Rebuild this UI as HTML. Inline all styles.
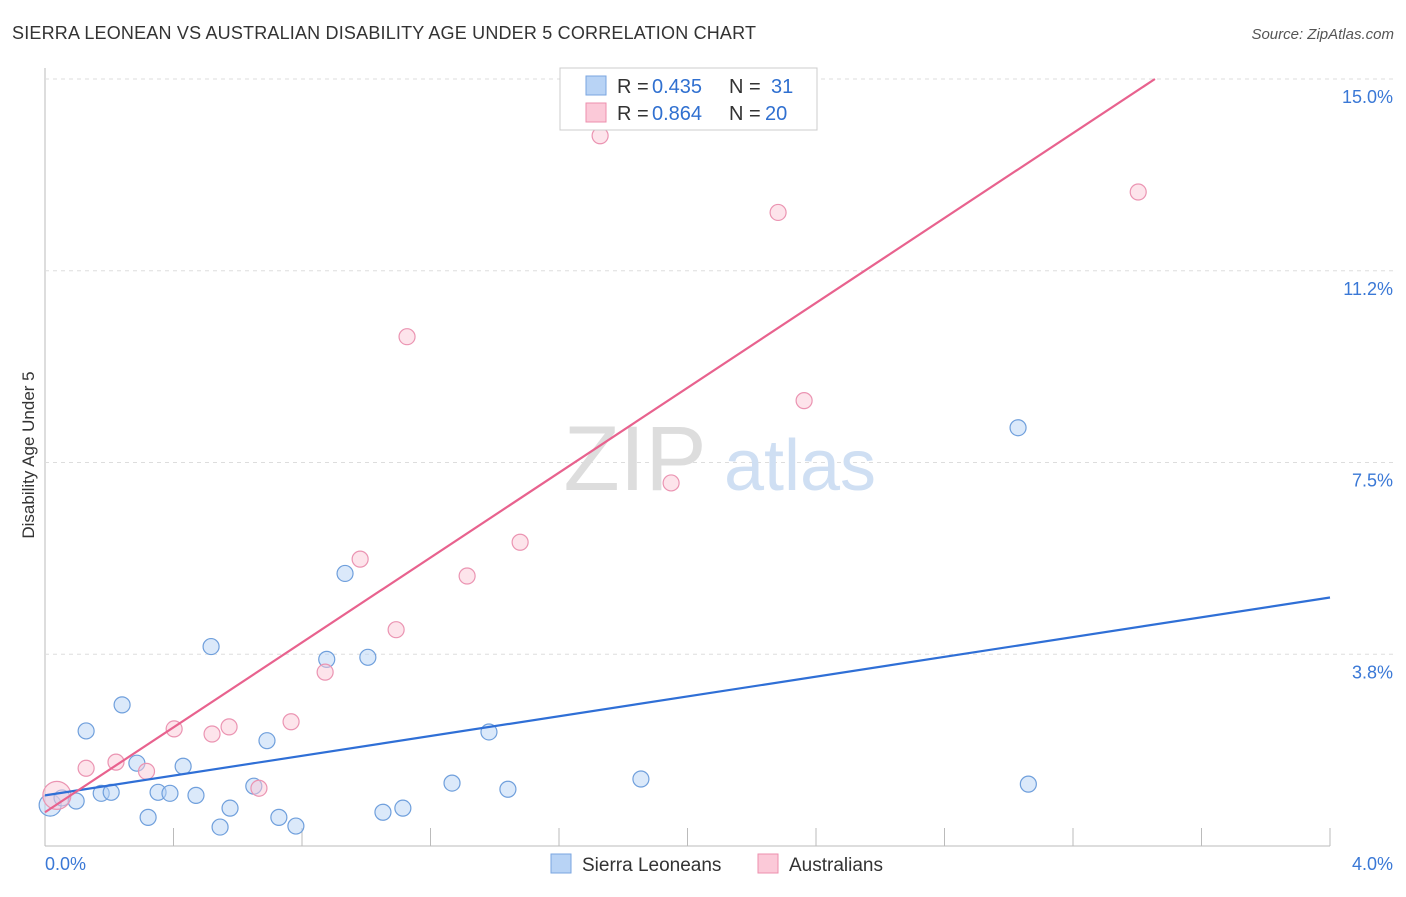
<!DOCTYPE html>
<html><head><meta charset="utf-8">
<style>
body{margin:0;background:#fff;font-family:"Liberation Sans",sans-serif;}
svg text{font-family:"Liberation Sans",sans-serif;}
</style></head>
<body>
<svg id="chart" width="1406" height="892" xmlns="http://www.w3.org/2000/svg">
<text x="12" y="39" font-size="18" fill="#333" textLength="744">SIERRA LEONEAN VS AUSTRALIAN DISABILITY AGE UNDER 5 CORRELATION CHART</text>
<text x="1394" y="39" font-size="15" fill="#555" font-style="italic" text-anchor="end">Source: ZipAtlas.com</text>
<text x="34" y="455" font-size="17" fill="#333" text-anchor="middle" transform="rotate(-90 34 455)">Disability Age Under 5</text>
<g id="grid"></g>
<g><text x="635" y="490" font-size="92" fill="#ddd" font-family="Liberation Serif" text-anchor="middle">ZIP</text><text x="800" y="490" font-size="72" fill="#cfdff3" text-anchor="middle">atlas</text></g>
<g id="marks"></g>
<g>
<rect x="560" y="68" width="257" height="62" fill="#fff" stroke="#ccc"/>
<rect x="586" y="76" width="20" height="19" fill="#b8d3f5" stroke="#7aa6e0"/>
<text x="617" y="93" font-size="20" fill="#333">R = </text><text x="652" y="93" font-size="20" fill="#3070d0">0.435</text>
<text x="729" y="93" font-size="20" fill="#333">N = </text><text x="771" y="93" font-size="20" fill="#3070d0">31</text>
<rect x="586" y="103" width="20" height="19" fill="#fbc9d8" stroke="#ec8fae"/>
<text x="617" y="120" font-size="20" fill="#333">R = </text><text x="652" y="120" font-size="20" fill="#3070d0">0.864</text>
<text x="729" y="120" font-size="20" fill="#333">N = </text><text x="765" y="120" font-size="20" fill="#3070d0">20</text>
</g>
<g>
<rect x="551" y="854" width="20" height="19" fill="#b8d3f5" stroke="#7aa6e0"/>
<text x="582" y="871" font-size="19" fill="#333">Sierra Leoneans</text>
<rect x="758" y="854" width="20" height="19" fill="#fbc9d8" stroke="#ec8fae"/>
<text x="789" y="871" font-size="19" fill="#333">Australians</text>
</g>
</svg>
<script>
const yTicks=[3.75,7.5,11.25,15];
const yTickLabels=["3.8%","7.5%","11.2%","15.0%"];
const blueX=[0.016,0.053,0.097,0.128,0.175,0.206,0.240,0.286,0.321,0.352,0.389,0.430,0.470,0.517,0.545,0.576,0.650,0.691,0.728,0.781,0.877,0.934,1.005,1.052,1.114,1.267,1.382,1.441,1.855,3.029,3.061];
const blueY=[0.80,0.94,0.88,2.25,1.03,1.05,2.76,1.62,0.56,1.05,1.03,1.56,0.99,3.90,0.37,0.74,1.17,2.06,0.56,0.39,3.65,5.33,3.69,0.66,0.74,1.23,2.23,1.11,1.31,8.18,1.21];
const pinkX=[0.037,0.128,0.221,0.316,0.402,0.520,0.573,0.666,0.766,0.872,0.981,1.093,1.127,1.314,1.479,1.728,1.949,2.282,2.363,3.403];
const pinkY=[0.99,1.52,1.64,1.46,2.29,2.19,2.33,1.13,2.43,3.40,5.61,4.23,9.96,5.28,5.94,13.89,7.10,12.39,8.71,12.79];
const blueLine=[0.99,4.86];
const pinkLine=[0.66,15.0];
const pinkLineEndX=3.455;
const X=v=>45+v/4*1285, Y=v=>846-v/15*767;
const ns="http://www.w3.org/2000/svg";
const grid=document.getElementById('grid'), marks=document.getElementById('marks');
function mk(tag,attrs,parent){const e=document.createElementNS(ns,tag);for(const k in attrs)e.setAttribute(k,attrs[k]);parent.appendChild(e);return e;}
let ax=mk('line',{x1:45,y1:846,x2:1330,y2:846,stroke:'#bbb'},grid);


let ay=mk('line',{x1:45,y1:68,x2:45,y2:846,stroke:'#bbb'},grid);


yTicks.forEach((t,i)=>{
 let g=mk('line',{x1:45,y1:Y(t),x2:1394,y2:Y(t),stroke:'#ddd','stroke-dasharray':'4,4'},grid);
 
 
 let l=mk('text',{x:1393,y:Y(t)+24,'font-size':18,fill:'#3a78d6','text-anchor':'end'},grid);
 l.textContent=yTickLabels[i];
 
 
});
for(let i=0;i<=10;i++){
 let t=mk('line',{x1:X(i*0.4),y1:828,x2:X(i*0.4),y2:846,stroke:'#bbb'},grid);
 
 
}
let x0=mk('text',{x:45,y:870,'font-size':18,fill:'#3a78d6'},grid);x0.textContent='0.0%';


let x1=mk('text',{x:1393,y:870,'font-size':18,fill:'#3a78d6','text-anchor':'end'},grid);x1.textContent='4.0%';


blueX.forEach((v,i)=>{
 let c=mk('circle',{cx:X(v),cy:Y(blueY[i]),r:i==0?11:8,fill:'rgba(184,211,245,0.5)',stroke:'#6f9fdc','stroke-width':1.2},marks);
 
 
});
pinkX.forEach((v,i)=>{
 let c=mk('circle',{cx:X(v),cy:Y(pinkY[i]),r:i==0?14:8,fill:'rgba(251,201,216,0.5)',stroke:'#eb94b2','stroke-width':1.2},marks);
 
 
});
let bl=mk('line',{x1:X(0),y1:Y(blueLine[0]),x2:X(4),y2:Y(blueLine[1]),stroke:'#2f6fd6','stroke-width':2.2},marks);


let pl=mk('line',{x1:X(0),y1:Y(pinkLine[0]),x2:X(pinkLineEndX),y2:Y(pinkLine[1]),stroke:'#e8628e','stroke-width':2.2},marks);


</script>
</body></html>
